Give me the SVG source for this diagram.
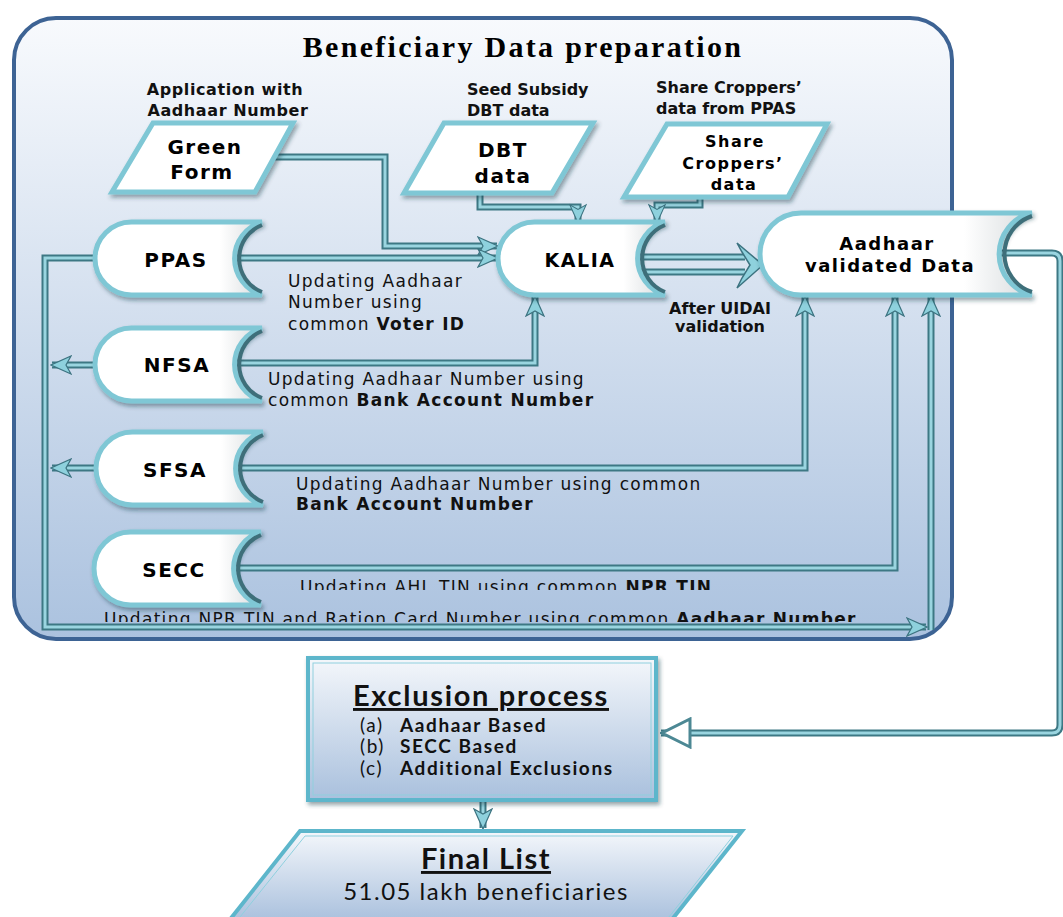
<svg xmlns="http://www.w3.org/2000/svg" xmlns:xlink="http://www.w3.org/1999/xlink" width="1063" height="917" viewBox="0 0 1063 917">
<defs>
<linearGradient id="bg" x1="0" y1="0" x2="0" y2="1"><stop offset="0" stop-color="#F8FAFD"/><stop offset="1" stop-color="#ABC2DF"/></linearGradient>
<linearGradient id="boxg" x1="0" y1="0" x2="0" y2="1"><stop offset="0" stop-color="#F4F7FB"/><stop offset="1" stop-color="#A9C0DD"/></linearGradient>
<linearGradient id="nodeg" x1="0" y1="0" x2="1" y2="0"><stop offset="0" stop-color="#FFFFFF"/><stop offset="0.75" stop-color="#FFFFFF"/><stop offset="1" stop-color="#D8DCDE"/></linearGradient>
<filter id="sh" x="-10%" y="-10%" width="130%" height="140%"><feDropShadow dx="2" dy="3" stdDeviation="2" flood-color="#1E3A44" flood-opacity="0.45"/></filter>
<path id="store" d="M36.5,0 H167 A38,38 0 0 0 167,73 H36.5 A36.5,36.5 0 0 1 36.5,0 Z"/>
<path id="storeC" d="M167,3 A36,36 0 0 0 167,70"/>
<path id="avd" d="M41,0 H272 A42,42 0 0 0 272,82 H41 A41,41 0 0 1 41,0 Z"/>
<path id="avdC" d="M272,3 A40,40 0 0 0 272,79"/>
<marker id="ah" markerUnits="userSpaceOnUse" viewBox="0 0 20 20" markerWidth="22" markerHeight="20" refX="19" refY="10" orient="auto">
<path d="M0,1 L20,10 L0,19 L5,10 Z" fill="#8ED1DD" stroke="#3C7380" stroke-width="1.2"/>
</marker>
<marker id="ahs" markerUnits="userSpaceOnUse" viewBox="0 0 20 20" markerWidth="22" markerHeight="18" refX="19" refY="10" orient="auto">
<path d="M0,1 L20,10 L0,19 L5,10 Z" fill="#8ED1DD" stroke="#3C7380" stroke-width="1.2"/>
</marker>
<marker id="hollow" markerUnits="userSpaceOnUse" viewBox="0 0 32 32" markerWidth="32" markerHeight="32" refX="31" refY="16" orient="auto">
<path d="M2,2 L30,16 L2,30 Z" fill="#FFFFFF" stroke="#4C8894" stroke-width="3"/>
</marker>
<clipPath id="clipSecc"><rect x="0" y="0" width="1063" height="590"/></clipPath>
<clipPath id="clipNpr"><rect x="0" y="0" width="1063" height="622"/></clipPath>
</defs>
<style>
.shape{fill:url(#nodeg);stroke:#7FC7D5;stroke-width:5;filter:url(#sh)}
.conc{fill:none;stroke:#3E6F7A;stroke-width:4}
.para{fill:#FFFFFF;stroke:#7FC7D5;stroke-width:5;stroke-linejoin:miter;filter:url(#sh)}
.pipeO{fill:none;stroke:#3D7884;stroke-width:7;stroke-linejoin:miter}
.pipeI{fill:none;stroke:#9AD5E0;stroke-width:3;stroke-linejoin:miter}
.lbl{font-family:"DejaVu Sans",Verdana,sans-serif;font-size:17px;fill:#111;letter-spacing:1.3px}
.top{font-family:"DejaVu Sans",Verdana,sans-serif;font-size:16px;font-weight:bold;fill:#111}
.b{font-weight:bold}
.nl{font-family:"DejaVu Sans",Verdana,sans-serif;font-weight:bold;fill:#000;text-anchor:middle;letter-spacing:1.5px}
.cal{font-family:Lato,"Open Sans",sans-serif;fill:#111}
.item{font-family:Lato,"Open Sans",sans-serif;fill:#111;font-size:19px;letter-spacing:1.6px}
</style>

<g id="container">
<rect x="14" y="18" width="938" height="621" rx="42" ry="42" fill="url(#bg)" stroke="#3D6394" stroke-width="4"/>
<text x="523" y="57" text-anchor="middle" font-family="Liberation Serif,Times New Roman,serif" font-weight="bold" font-size="30" letter-spacing="2.3" fill="#000">Beneficiary Data preparation</text>
</g>

<g id="labels">
<text class="top" x="225" y="95" text-anchor="middle" letter-spacing="0.6">Application with</text>
<text class="top" x="228" y="116" text-anchor="middle" letter-spacing="0.6">Aadhaar Number</text>
<text class="top" x="467" y="95">Seed Subsidy</text>
<text class="top" x="467" y="116">DBT data</text>
<text class="top" x="656" y="93">Share Croppers’</text>
<text class="top" x="656" y="114">data from PPAS</text>
</g>

<g id="connectors">
<path class="pipeO" d="M272,157 H385 V246 H497"/>
<path class="pipeI" d="M272,157 H385 V246 H497" marker-end="url(#ah)"/>
<path class="pipeO" d="M230,258 H497"/>
<path class="pipeI" d="M230,258 H497" marker-end="url(#ah)"/>
<path class="pipeO" d="M480,193 V207 H578 V222"/>
<path class="pipeI" d="M480,193 V207 H578 V222" marker-end="url(#ahs)"/>
<path class="pipeO" d="M700,197 V205 H657 V222"/>
<path class="pipeI" d="M700,197 V205 H657 V222" marker-end="url(#ahs)"/>
<path class="pipeO" d="M632,257 H745 M632,272 H745"/>
<path class="pipeI" d="M632,257 H745 M632,272 H745"/>
<path d="M737,243 L763,265 L737,288 L742,278 L750,265 L742,252 Z" fill="#8ED1DD" stroke="#3C7380" stroke-width="1.5"/>
<path class="pipeO" d="M230,363 H535 V297"/>
<path class="pipeI" d="M230,363 H535 V297" marker-end="url(#ah)"/>
<path class="pipeO" d="M230,468 H805 V297"/>
<path class="pipeI" d="M230,468 H805 V297" marker-end="url(#ah)"/>
<path class="pipeO" d="M230,568 H895 V297"/>
<path class="pipeI" d="M230,568 H895 V297" marker-end="url(#ah)"/>
<path class="pipeO" d="M97,258 H45 V627 H926"/>
<path class="pipeI" d="M97,258 H45 V627 H926" marker-end="url(#ah)"/>
<path class="pipeO" d="M931,630 V297"/>
<path class="pipeI" d="M931,630 V297" marker-end="url(#ah)"/>
<path class="pipeO" d="M97,365 H52"/>
<path class="pipeI" d="M97,365 H52" marker-end="url(#ah)"/>
<path class="pipeO" d="M97,468 H52"/>
<path class="pipeI" d="M97,468 H52" marker-end="url(#ah)"/>
<path class="pipeO" d="M985,253 H1052 Q1060,253 1060,261 V725 Q1060,733 1052,733 H661"/>
<path class="pipeI" d="M985,253 H1052 Q1060,253 1060,261 V725 Q1060,733 1052,733 H661" marker-end="url(#hollow)"/>
<path class="pipeO" d="M483,801 V828"/>
<path class="pipeI" d="M483,801 V828" marker-end="url(#ah)"/>
</g>

<g id="edge-labels">
<text class="lbl" x="288" y="287">Updating Aadhaar</text>
<text class="lbl" x="288" y="308">Number using</text>
<text class="lbl" x="288" y="330">common <tspan class="b">Voter ID</tspan></text>
<text class="lbl" x="268" y="385">Updating Aadhaar Number using</text>
<text class="lbl" x="268" y="406">common <tspan class="b">Bank Account Number</tspan></text>
<text class="lbl" x="296" y="490">Updating Aadhaar Number using common</text>
<text class="lbl b" x="296" y="510">Bank Account Number</text>
<text class="top" x="720" y="314" text-anchor="middle" font-size="15">After UIDAI</text>
<text class="top" x="720" y="332" text-anchor="middle" font-size="15">validation</text>
<g clip-path="url(#clipSecc)"><text class="lbl" x="300" y="593">Updating AHL TIN using common <tspan class="b">NPR TIN</tspan></text></g>
<g clip-path="url(#clipNpr)"><text class="lbl" x="104" y="625" letter-spacing="1.1">Updating NPR  TIN and Ration Card Number using common <tspan class="b">Aadhaar Number</tspan></text></g>
</g>

<g id="green-form">
<polygon class="para" points="153,123 293,123 255,192 112,192"/>
<text class="nl" x="205" y="154" font-size="20">Green</text>
<text class="nl" x="202" y="179" font-size="20">Form</text>
</g>
<g id="dbt-data">
<polygon class="para" points="444,123 593,123 552,193 404,193"/>
<text class="nl" x="503" y="157" font-size="20">DBT</text>
<text class="nl" x="503" y="183" font-size="20">data</text>
</g>
<g id="share-croppers">
<polygon class="para" points="667,124 827,124 788,197 624,197"/>
<text class="nl" x="735" y="147" font-size="16" letter-spacing="0.5">Share</text>
<text class="nl" x="733" y="169" font-size="16" letter-spacing="0.5">Croppers’</text>
<text class="nl" x="734" y="190" font-size="16" letter-spacing="0.5">data</text>
</g>

<g id="ppas">
<use xlink:href="#store" x="95" y="222" class="shape"/>
<use xlink:href="#storeC" x="95" y="222" class="conc"/>
<text class="nl" x="176" y="267" font-size="20">PPAS</text>
</g>
<g id="nfsa">
<use xlink:href="#store" x="95" y="328" class="shape"/>
<use xlink:href="#storeC" x="95" y="328" class="conc"/>
<text class="nl" x="177" y="372" font-size="20">NFSA</text>
</g>
<g id="sfsa">
<use xlink:href="#store" x="96" y="432" class="shape"/>
<use xlink:href="#storeC" x="96" y="432" class="conc"/>
<text class="nl" x="175" y="477" font-size="20">SFSA</text>
</g>
<g id="secc">
<use xlink:href="#store" x="94" y="532" class="shape"/>
<use xlink:href="#storeC" x="94" y="532" class="conc"/>
<text class="nl" x="174" y="577" font-size="20">SECC</text>
</g>
<g id="kalia">
<use xlink:href="#store" x="498" y="222" class="shape"/>
<use xlink:href="#storeC" x="498" y="222" class="conc"/>
<text class="nl" x="580" y="267" font-size="19" letter-spacing="0.5">KALIA</text>
</g>
<g id="aadhaar-validated">
<use xlink:href="#avd" x="760" y="213" class="shape"/>
<use xlink:href="#avdC" x="760" y="213" class="conc"/>
<text class="nl" x="887" y="250" font-size="18" letter-spacing="1.2">Aadhaar</text>
<text class="nl" x="890" y="272" font-size="18" letter-spacing="1.2">validated Data</text>
</g>

<g id="exclusion">
<rect x="308" y="658" width="348" height="142" fill="url(#boxg)" stroke="#5DB6CB" stroke-width="4" filter="url(#sh)"/>
<rect x="313" y="663" width="338" height="132" fill="none" stroke="#8FD0DE" stroke-width="1"/>
<text class="cal" x="481" y="706" text-anchor="middle" font-size="29" font-weight="bold" letter-spacing="1.7" text-decoration="underline">Exclusion process</text>
<text class="item" x="360" y="732">(a)</text>
<text class="item" x="400" y="732" font-weight="bold">Aadhaar Based</text>
<text class="item" x="360" y="753">(b)</text>
<text class="item" x="400" y="753" font-weight="bold">SECC Based</text>
<text class="item" x="360" y="775">(c)</text>
<text class="item" x="400" y="775" font-weight="bold">Additional Exclusions</text>
</g>

<g id="final-list">
<polygon points="300,831 742,831 670,922 228,922" fill="url(#boxg)" stroke="#5DB6CB" stroke-width="4"/>
<polygon points="305,836 733,836 665,922 236,922" fill="none" stroke="#8FD0DE" stroke-width="1"/>
<text class="cal" x="486" y="869" text-anchor="middle" font-size="29" font-weight="bold" letter-spacing="1.5" text-decoration="underline">Final List</text>
<text class="cal" x="486" y="900" text-anchor="middle" font-size="24" letter-spacing="1.5">51.05 lakh beneficiaries</text>
</g>
</svg>
